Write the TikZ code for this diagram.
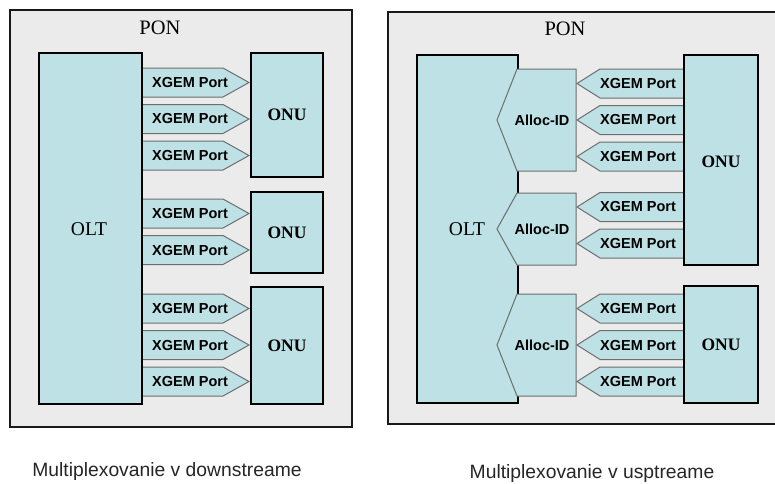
\documentclass[tikz,border=0pt]{standalone}
\usepackage{fontspec}
\setmainfont{Liberation Serif}
\setsansfont{Liberation Sans}

\definecolor{ponbg}{HTML}{EBEBEB}
\definecolor{cyanbox}{HTML}{BDE1E4}
\definecolor{portline}{HTML}{6E6E6E}

\tikzset{
  ponbox/.style={draw=black!90,line width=2pt,fill=ponbg},
  unitbox/.style={draw=black,line width=2pt,fill=cyanbox},
  portshape/.style={draw=portline,line width=1pt,fill=cyanbox,line join=miter},
  porttext/.style={font=\sffamily\bfseries\fontsize{14.5}{16}\selectfont,inner sep=0pt},
  pontitle/.style={font=\fontsize{20.5}{22}\selectfont,inner sep=0pt},
  olttext/.style={font=\fontsize{19.5}{21}\selectfont,inner sep=0pt},
  onutext/.style={font=\bfseries\fontsize{17.5}{19}\selectfont,inner sep=0pt},
  captext/.style={font=\sffamily\fontsize{19.3}{21}\selectfont,text=black!85,inner sep=0pt,anchor=base}
}

\begin{document}
\begin{tikzpicture}[x=1pt,y=-1pt]
  \useasboundingbox (0,0) rectangle (775,483);
  \fill[white] (0,0) rectangle (775,483);

  % downstream
  \draw[ponbox] (10,10) rectangle (352,427);
  \node[pontitle] (pon1) at (160,28) {PON};
  \foreach \y [count=\i] in {82.5,119,155.5,213.5,250,308.5,345,381.5} {
    \draw[portshape] (142,\y-14.5) -- (223,\y-14.5) -- (249,\y) -- (223,\y+14.5) -- (142,\y+14.5);
    \node[porttext] (dport\i) at (190,\y) {XGEM Port};
  }
  \draw[unitbox] (39,53) rectangle (142,404);
  \node[olttext] (olt1) at (89,229) {OLT};
  \foreach \t/\b [count=\i] in {53/177,192/273,287/404} {
    \pgfmathsetmacro\m{(\t+\b)/2}
    \draw[unitbox] (251,\t) rectangle (323,\b);
    \node[onutext] (donu\i) at (287,\m) {ONU};
  }

  % upstream
  \draw[ponbox] (388,12) rectangle (782,424);
  \node[pontitle] (pon2) at (565,29) {PON};
  \draw[unitbox] (417,55) rectangle (518,403);
  \node[olttext] (olt2) at (467,229) {OLT};
  \foreach \t/\b [count=\i] in {69/171,193/265,294/396} {
    \pgfmathsetmacro\m{(\t+\b)/2}
    \draw[portshape] (517,\t) -- (576,\t) -- (576,\b) -- (517,\b) -- (497,\m) -- cycle;
    \node[porttext] (alloc\i) at (542,\m) {Alloc-ID};
  }
  \foreach \y [count=\i] in {83.5,120,156.5,207,243.5,308.5,345,381.5} {
    \draw[portshape] (684,\y-14.5) -- (600,\y-14.5) -- (577,\y) -- (600,\y+14.5) -- (684,\y+14.5);
    \node[porttext] (uport\i) at (638,\y) {XGEM Port};
  }
  \draw[unitbox] (684,55) rectangle (758,265);
  \node[onutext] (uonu1) at (721,162) {ONU};
  \draw[unitbox] (684,286) rectangle (758,403);
  \node[onutext] (uonu2) at (721,345) {ONU};

  \node[captext] (cap1) at (167,476) {Multiplexovanie v downstreame};
  \node[captext] (cap2) at (592,478.5) {Multiplexovanie v usptreame};
\end{tikzpicture}
\end{document}
